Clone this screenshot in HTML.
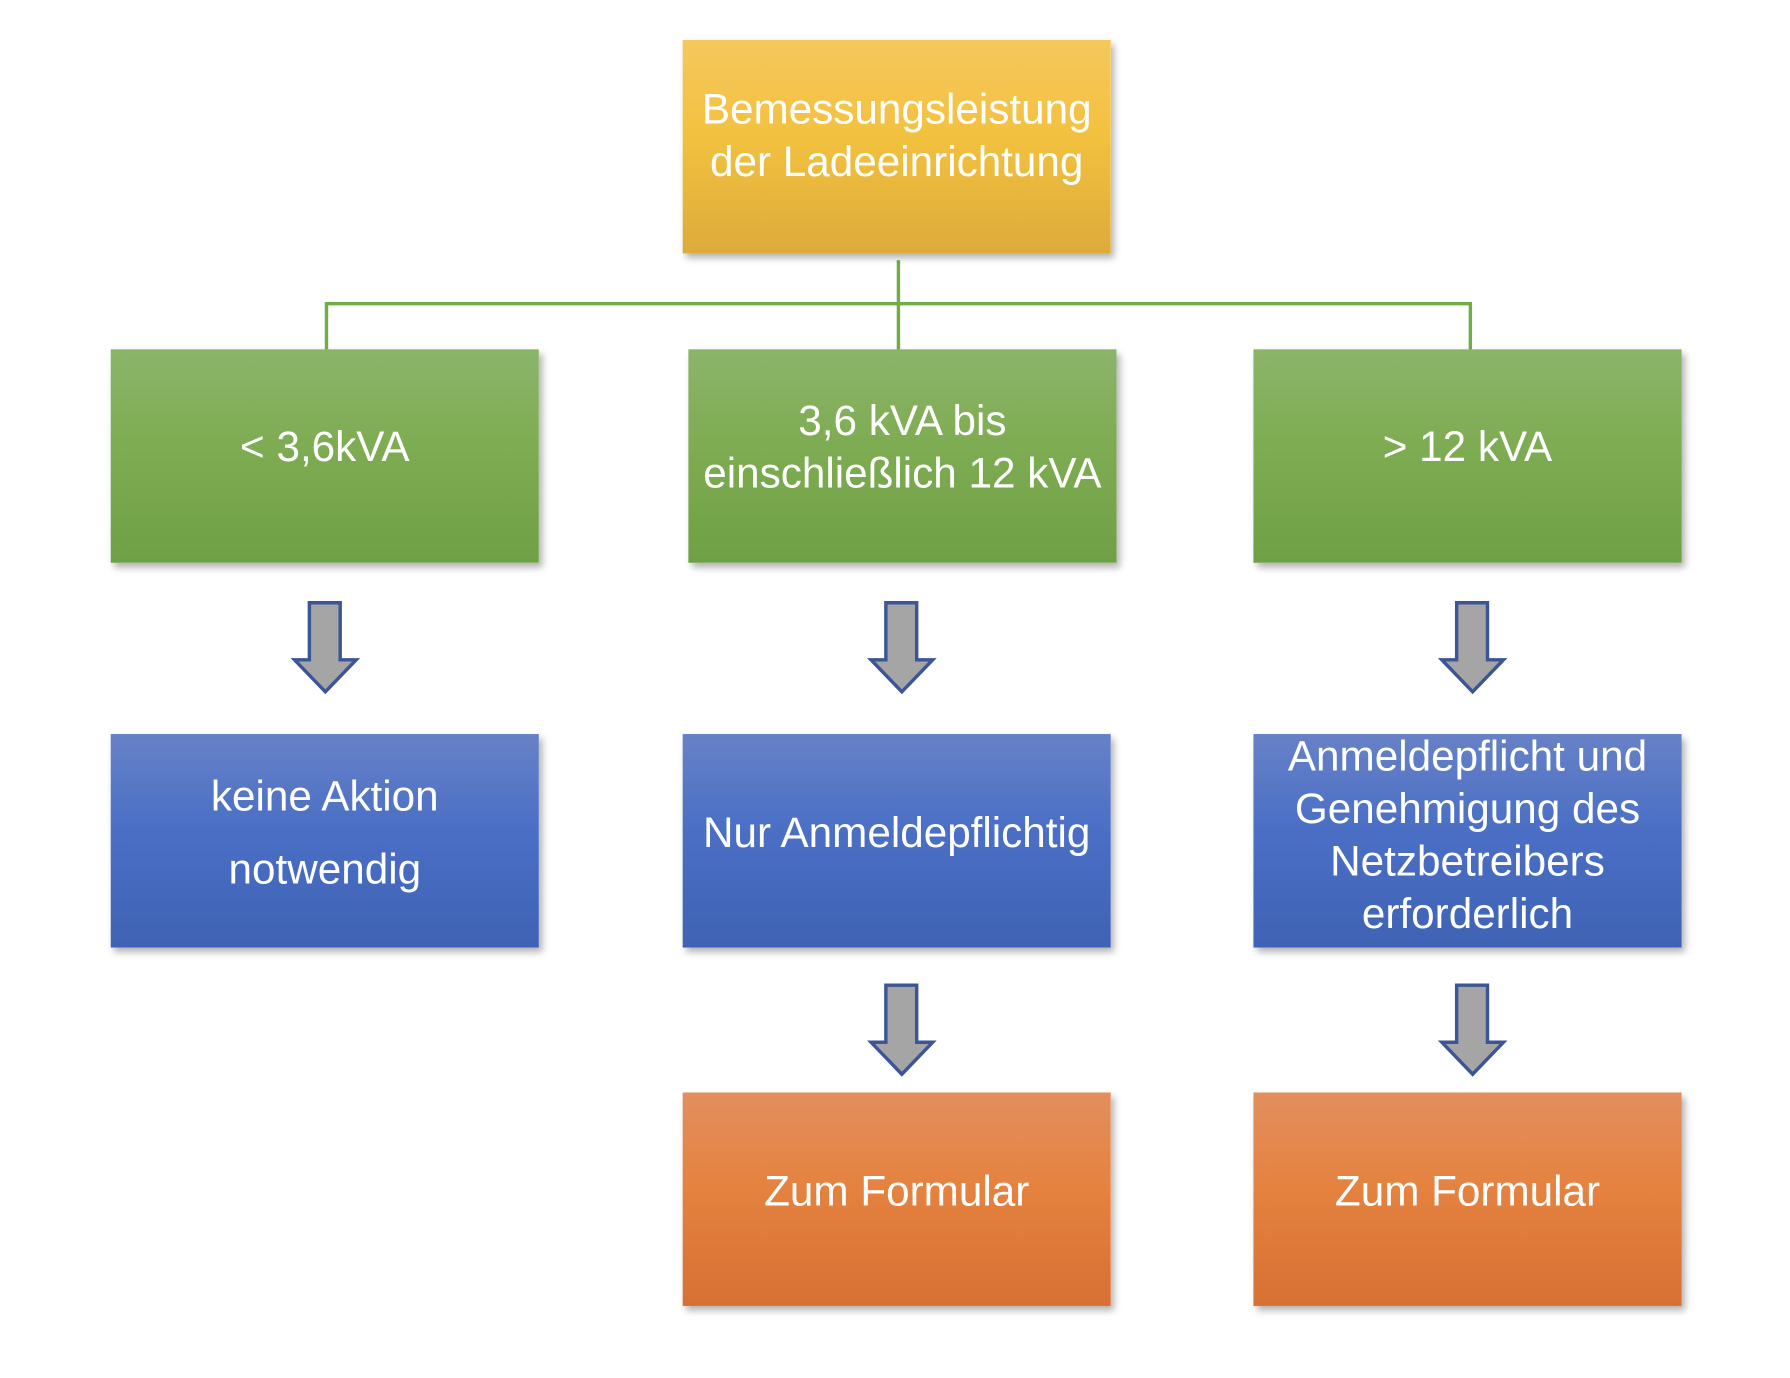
<!DOCTYPE html>
<html><head><meta charset="utf-8"><style>
html,body{margin:0;padding:0;background:#fff;width:1790px;height:1378px;overflow:hidden}
#w{position:absolute;left:0;top:0;width:1568px;height:1207px;transform:scale(1.14158);transform-origin:0 0}
.b{position:absolute;width:375px;height:187px;display:flex;align-items:center;justify-content:center;text-align:center;color:#fff;font-family:"Liberation Sans",sans-serif;font-size:37px;line-height:46px;box-shadow:3px 4px 6px rgba(0,0,0,.3);box-sizing:border-box;white-space:nowrap}
.y{background:linear-gradient(#f5c75e,#f3c13f 45%,#dcab3a)}
.g{background:linear-gradient(#8bb46a,#7eac52 45%,#6fa045)}
.bl{background:linear-gradient(#6781c6,#4a6fc5 45%,#3f62b4)}
.o{background:linear-gradient(#e28f5e,#e5823f 45%,#d77034)}
svg{position:absolute;left:0;top:0}
</style></head><body><div id="w">
<svg width="1568" height="1207">
<g stroke="#70ad47" stroke-width="3" fill="none">
<path d="M787 228V306M286 306V266H1288V306"/>
</g>
<g fill="#a5a5a5" stroke="#3b5596" stroke-width="3" stroke-linejoin="miter">
<path d="M271 528H298V578H312L285 606L258 578H271Z"/>
<path d="M776 528H803V578H817L790 606L763 578H776Z"/>
<path d="M1276 528H1303V578H1317L1290 606L1263 578H1276Z"/>
<path d="M776 863H803V913H817L790 941L763 913H776Z"/>
<path d="M1276 863H1303V913H1317L1290 941L1263 913H1276Z"/>
</g>
</svg>
<div class="b y" style="left:598px;top:35px;padding-bottom:20px">Bemessungsleistung<br>der Ladeeinrichtung</div>
<div class="b g" style="left:97px;top:306px;padding-bottom:16px">&lt; 3,6kVA</div>
<div class="b g" style="left:603px;top:306px;padding-bottom:16px">3,6 kVA bis<br>einschließlich 12 kVA</div>
<div class="b g" style="left:1098px;top:306px;padding-bottom:16px">&gt; 12 kVA</div>
<div class="b bl" style="left:97px;top:643px;line-height:64px;padding-bottom:14px">keine Aktion<br>notwendig</div>
<div class="b bl" style="left:598px;top:643px;padding-bottom:14px">Nur Anmeldepflichtig</div>
<div class="b bl" style="left:1098px;top:643px;padding-bottom:10px">Anmeldepflicht und<br>Genehmigung des<br>Netzbetreibers<br>erforderlich</div>
<div class="b o" style="left:598px;top:957px;padding-bottom:14px">Zum Formular</div>
<div class="b o" style="left:1098px;top:957px;padding-bottom:14px">Zum Formular</div>
</div></body></html>
